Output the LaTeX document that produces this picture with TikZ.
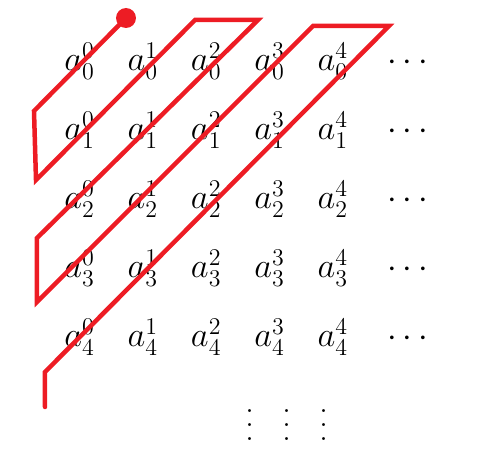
\documentclass[tikz,border=0pt]{standalone}
\usepackage{tikz}
\definecolor{pathred}{RGB}{237,28,36}
\newcommand{\bigvdots}{\vbox{\baselineskip7.2pt \lineskiplimit0pt \kern10.8pt\hbox{.}\hbox{.}\hbox{.}}}
\tikzset{
  entry/.style={anchor=base west, inner sep=0pt, font=\fontsize{18}{20}\selectfont},
  vdotsnode/.style={anchor=base, inner sep=0pt, font=\fontsize{18}{20}\selectfont},
  zigzag/.style={draw=pathred, line width=2.25pt, line join=miter, line cap=round},
}
\begin{document}
\begin{tikzpicture}[x=0.5pt,y=-0.5pt]
\useasboundingbox (0,0) rectangle (500,476);
\foreach \i in {0,...,4}{
  \foreach \j in {0,...,4}{
    \node[entry] (a\i\j) at ({64+63.3*\j},{71+69*\i}) {$a_{\i}^{\j}$};
  }
  \node[entry] (d\i) at (387,{71+69*\i}) {$\cdots$};
}
\node[vdotsnode] (v0) at (250,441) {\bigvdots};
\node[vdotsnode] (v1) at (287,441) {\bigvdots};
\node[vdotsnode] (v2) at (324,441) {\bigvdots};
\coordinate (s) at (126,18);
\coordinate (p1) at (34,111);
\coordinate (p2) at (36,180);
\coordinate (p3) at (195,20);
\coordinate (p4) at (258,20);
\coordinate (p5) at (37,238);
\coordinate (p6) at (37,302);
\coordinate (p7) at (313,26);
\coordinate (p8) at (389,26);
\coordinate (p9) at (45,372);
\coordinate (p10) at (45,407);
\draw[zigzag] (s) -- (p1) -- (p2) -- (p3) -- (p4) -- (p5) -- (p6) -- (p7) -- (p8) -- (p9) -- (p10);
\fill[pathred] (s) circle (5pt);
\end{tikzpicture}
\end{document}
